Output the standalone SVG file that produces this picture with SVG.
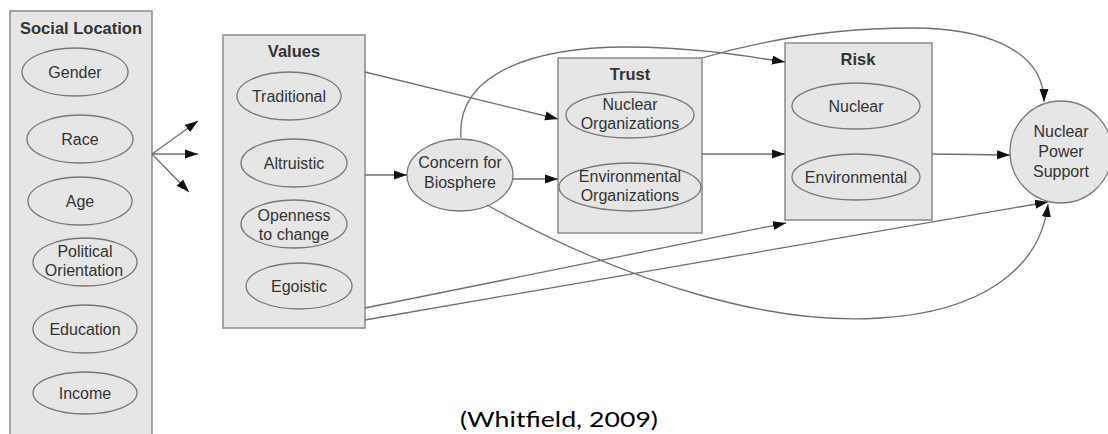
<svg xmlns="http://www.w3.org/2000/svg" width="1108" height="434" viewBox="0 0 1108 434">
<style>
.box{fill:#e6e6e6;stroke:#8a8a8a;stroke-width:1.5}
.ell{fill:#e6e6e6;stroke:#777;stroke-width:1.3}
.t{font-family:"Liberation Sans",Arial,sans-serif;font-size:16px;fill:#333;text-anchor:middle}
.h{font-family:"Liberation Sans",Arial,sans-serif;font-size:16.5px;font-weight:bold;fill:#333;text-anchor:middle}
.c{fill:none;stroke:#6e6e6e;stroke-width:1.3;marker-end:url(#ah)}
</style>
<defs>
<marker id="ah" markerUnits="userSpaceOnUse" markerWidth="14" markerHeight="10" refX="13" refY="5" orient="auto">
<path d="M0,0.5 L13,5 L0,9.5 Z" fill="#111"/>
</marker>
</defs>
<rect width="1108" height="434" fill="#fff"/>

<g id="social-location">
<rect class="box" x="10" y="11" width="142" height="440"/>
<text class="h" x="81" y="34">Social Location</text>
<ellipse class="ell" cx="75" cy="72" rx="53" ry="24"/><text class="t" x="75" y="78">Gender</text>
<ellipse class="ell" cx="80" cy="139" rx="53" ry="24"/><text class="t" x="80" y="145">Race</text>
<ellipse class="ell" cx="80" cy="201" rx="52" ry="24"/><text class="t" x="80" y="207">Age</text>
<ellipse class="ell" cx="85" cy="262" rx="52" ry="24"/><text class="t" x="85" y="257">Political</text><text class="t" x="84" y="276">Orientation</text>
<ellipse class="ell" cx="85" cy="329" rx="52" ry="24"/><text class="t" x="85" y="335">Education</text>
<ellipse class="ell" cx="85" cy="393" rx="52" ry="21"/><text class="t" x="85" y="399">Income</text>
</g>

<g id="values">
<rect class="box" x="223" y="35" width="142" height="293"/>
<text class="h" x="294" y="57">Values</text>
<ellipse class="ell" cx="289" cy="96" rx="52" ry="24"/><text class="t" x="289" y="102">Traditional</text>
<ellipse class="ell" cx="294" cy="163" rx="53" ry="24"/><text class="t" x="294" y="169">Altruistic</text>
<ellipse class="ell" cx="294" cy="224" rx="53" ry="24"/><text class="t" x="294" y="221">Openness</text><text class="t" x="294" y="240">to change</text>
<ellipse class="ell" cx="299" cy="286" rx="53" ry="23"/><text class="t" x="299" y="292">Egoistic</text>
</g>

<g id="concern-biosphere">
<ellipse class="ell" cx="460" cy="175" rx="53" ry="36"/>
<text class="t" x="460" y="168">Concern for</text>
<text class="t" x="460" y="188">Biosphere</text>
</g>

<g id="trust">
<rect class="box" x="558" y="58" width="144" height="175"/>
<text class="h" x="630" y="80">Trust</text>
<ellipse class="ell" cx="630" cy="115" rx="64" ry="23"/><text class="t" x="630" y="110">Nuclear</text><text class="t" x="630" y="129">Organizations</text>
<ellipse class="ell" cx="630" cy="187" rx="71" ry="24"/><text class="t" x="630" y="182">Environmental</text><text class="t" x="630" y="201">Organizations</text>
</g>

<g id="risk">
<rect class="box" x="785" y="43" width="147" height="177"/>
<text class="h" x="858" y="65">Risk</text>
<ellipse class="ell" cx="856" cy="106" rx="64" ry="23"/><text class="t" x="856" y="112">Nuclear</text>
<ellipse class="ell" cx="856" cy="177" rx="64" ry="23"/><text class="t" x="856" y="183">Environmental</text>
</g>

<g id="nuclear-power-support">
<circle class="ell" cx="1061" cy="152" r="51"/>
<text class="t" x="1061" y="137">Nuclear</text>
<text class="t" x="1061" y="157">Power</text>
<text class="t" x="1061" y="177">Support</text>
</g>

<g id="connectors">
<path class="c" d="M152,154 L198,121"/>
<path class="c" d="M152,154 L198,154"/>
<path class="c" d="M152,154 L189,192"/>
<path class="c" d="M365,72 L558,119"/>
<path class="c" d="M365,175 L407,175"/>
<path class="c" d="M512,179 L558,179"/>
<path class="c" d="M702,154 L785,154"/>
<path class="c" d="M932,154 L1010,155"/>
<path class="c" d="M365,308 L786,223"/>
<path class="c" d="M365,320 L1048,202"/>
<path class="c" d="M461,138 C456,75 530,47 627,47 C690,47 740,55 785,62"/>
<path class="c" d="M702,58 C780,35 850,28 913,28 C975,28 1044,45 1044,102"/>
<path class="c" d="M487,205 C640,290 780,325 880,318 C980,312 1040,270 1048,204"/>
</g>

<text x="460" y="427" font-family="Lato,'Liberation Sans',sans-serif" font-size="21" fill="#000" textLength="198" lengthAdjust="spacingAndGlyphs">(Whitfield, 2009)</text>
</svg>
